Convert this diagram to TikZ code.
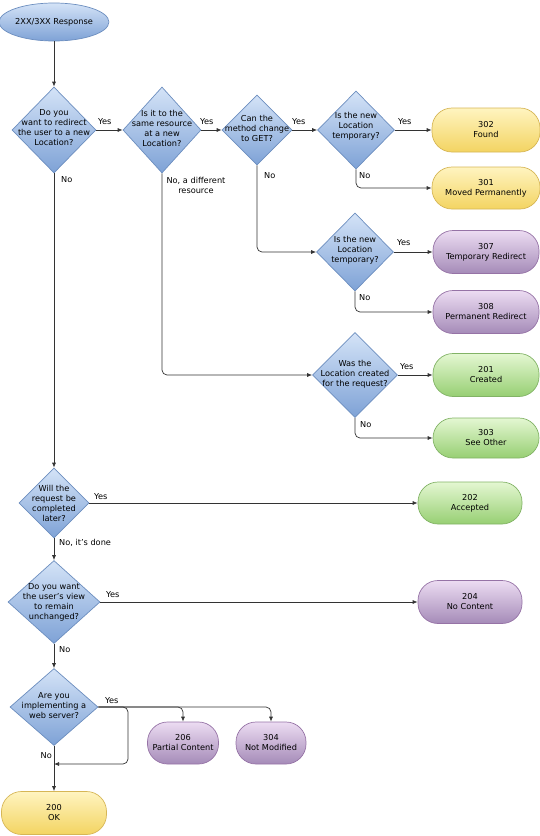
\documentclass[tikz,border=0pt]{standalone}
\usepackage{fontspec}
\setmainfont{DejaVu Sans}
\usetikzlibrary{shapes.geometric,arrows.meta}
\definecolor{diaT}{HTML}{D4E3F7}
\definecolor{diaBot}{HTML}{7EA2D6}
\definecolor{diaB}{HTML}{6C8EBF}
\definecolor{yelT}{HTML}{FFF4C0}
\definecolor{yelBot}{HTML}{F3D462}
\definecolor{yelB}{HTML}{D6B656}
\definecolor{purT}{HTML}{ECDCF2}
\definecolor{purBot}{HTML}{A58BB8}
\definecolor{purB}{HTML}{9673A6}
\definecolor{grnT}{HTML}{E4F7D2}
\definecolor{grnBot}{HTML}{97CF73}
\definecolor{grnB}{HTML}{82B366}
\definecolor{lineC}{HTML}{333333}
\tikzset{
  base/.style={font=\fontsize{8.2}{10}\selectfont, align=center, inner sep=0pt, text=black},
  dia/.style={diamond, draw=diaB, top color=diaT, bottom color=diaBot, inner sep=0pt, line width=0.7pt},
  qtext/.style={base},
  term/.style={rectangle, rounded corners=20pt, line width=0.7pt, base},
  yel/.style={term, draw=yelB, top color=yelT, bottom color=yelBot},
  pur/.style={term, draw=purB, top color=purT, bottom color=purBot},
  grn/.style={term, draw=grnB, top color=grnT, bottom color=grnBot},
  lbl/.style={base, anchor=west},
  arr/.style={draw=lineC, line width=0.7pt, -{Latex[length=5pt,width=4pt]}},
  elbow/.style={arr, rounded corners=5pt}
}
\begin{document}
\begin{tikzpicture}[x=1pt,y=-1pt]
\useasboundingbox (0,0) rectangle (540,836);
% start
\node[ellipse, draw=diaB, top color=diaT, bottom color=diaBot, line width=0.7pt, minimum width=100pt, minimum height=38pt, base] (start) at (54,22) {2XX/3XX Response};
% diamonds
\node[dia, minimum width=84pt, minimum height=86pt] (d1) at (54,130) {};
\node[qtext] (d1t) at (54,128) {Do you\\want to redirect\\the user to a new\\Location?};
\node[dia, minimum width=78pt, minimum height=86pt] (d2) at (162,130) {};
\node[qtext] (d2t) at (162,128) {Is it to the\\same resource\\at a new\\Location?};
\node[dia, minimum width=70pt, minimum height=70pt] (d3) at (257,130) {};
\node[qtext] (d3t) at (257,128) {Can the\\method change\\to GET?};
\node[dia, minimum width=77pt, minimum height=78pt] (d4) at (356,130) {};
\node[qtext] (d4t) at (356,126) {Is the new\\Location\\temporary?};
\node[dia, minimum width=77pt, minimum height=78pt] (d5) at (355,252) {};
\node[qtext] (d5t) at (355,250) {Is the new\\Location\\temporary?};
\node[dia, minimum width=85pt, minimum height=85pt] (d6) at (355,375) {};
\node[qtext] (d6t) at (355,374) {Was the\\Location created\\for the request?};
\node[dia, minimum width=70pt, minimum height=70pt] (d7) at (54,503) {};
\node[qtext] (d7t) at (54,503) {Will the\\request be\\completed\\later?};
\node[dia, minimum width=92pt, minimum height=83pt] (d8) at (54,602) {};
\node[qtext] (d8t) at (54,602) {Do you want\\the user's view\\to remain\\unchanged?};
\node[dia, minimum width=88pt, minimum height=77pt] (d9) at (54,707) {};
\node[qtext] (d9t) at (54,706) {Are you\\implementing a\\web server?};
% terminals
\node[yel, minimum width=108pt, minimum height=44pt] (r302) at (486,130) {302\\Found};
\node[yel, minimum width=108pt, minimum height=42pt] (r301) at (486,188) {301\\Moved Permanently};
\node[pur, minimum width=106pt, minimum height=43pt] (r307) at (486,252) {307\\Temporary Redirect};
\node[pur, minimum width=106pt, minimum height=43pt] (r308) at (486,312) {308\\Permanent Redirect};
\node[grn, minimum width=106pt, minimum height=43pt] (r201) at (486,375) {201\\Created};
\node[grn, minimum width=106pt, minimum height=40pt] (r303) at (486,438) {303\\See Other};
\node[grn, minimum width=104pt, minimum height=42pt] (r202) at (470,503) {202\\Accepted};
\node[pur, minimum width=104pt, minimum height=43pt] (r204) at (470,602) {204\\No Content};
\node[pur, minimum width=71pt, minimum height=42pt] (r206) at (183,743) {206\\Partial Content};
\node[pur, minimum width=70pt, minimum height=42pt] (r304) at (271,743) {304\\Not Modified};
\node[yel, minimum width=105pt, minimum height=43pt] (r200) at (54,813) {200\\OK};
% connectors
\draw[arr] (start) -- (d1);
\draw[arr] (d1.east) -- (d2.west);
\draw[arr] (d2.east) -- (d3.west);
\draw[arr] (d3.east) -- (d4.west);
\draw[arr] (d4.east) -- (r302.west);
\draw[elbow] (d4.south) |- (r301.west);
\draw[elbow] (d3.south) |- (d5.west);
\draw[elbow] (d2.south) |- (d6.west);
\draw[arr] (d5.east) -- (r307.west);
\draw[elbow] (d5.south) |- (r308.west);
\draw[arr] (d6.east) -- (r201.west);
\draw[elbow] (d6.south) |- (r303.west);
\draw[arr] (d1.south) -- (d7.north);
\draw[arr] (d7.east) -- (r202.west);
\draw[arr] (d7.south) -- (d8.north);
\draw[arr] (d8.east) -- (r204.west);
\draw[arr] (d8.south) -- (d9.north);
\draw[arr] (d9.south) -- (r200.north);
\coordinate (c1) at (128,707);
\coordinate (c2) at (128,764);
\coordinate (c3) at (54,764);
\draw[elbow] (d9.east) -- (c1) -- (c2) -- (c3);
\draw[elbow] (d9.east) -| (r206.north);
\draw[elbow] (d9.east) -| (r304.north);
% labels
\node[lbl] (l1) at (98,122) {Yes};
\node[lbl] (l2) at (200,122) {Yes};
\node[lbl] (l3) at (292,122) {Yes};
\node[lbl] (l4) at (398,122) {Yes};
\node[lbl] (l5) at (61,180) {No};
\node[base] (l6) at (196,185) {No, a different\\resource};
\node[lbl] (l7) at (264,176) {No};
\node[lbl] (l8) at (359,176) {No};
\node[lbl] (l9) at (397,243) {Yes};
\node[lbl] (l10) at (359,298) {No};
\node[lbl] (l11) at (400,367) {Yes};
\node[lbl] (l12) at (360,425) {No};
\node[lbl] (l13) at (94,497) {Yes};
\node[lbl] (l14) at (59,543) {No, it's done};
\node[lbl] (l15) at (106,595) {Yes};
\node[lbl] (l16) at (59,650) {No};
\node[lbl] (l17) at (105,701) {Yes};
\node[base, anchor=east] (l18) at (52,756) {No};
\end{tikzpicture}
\end{document}
